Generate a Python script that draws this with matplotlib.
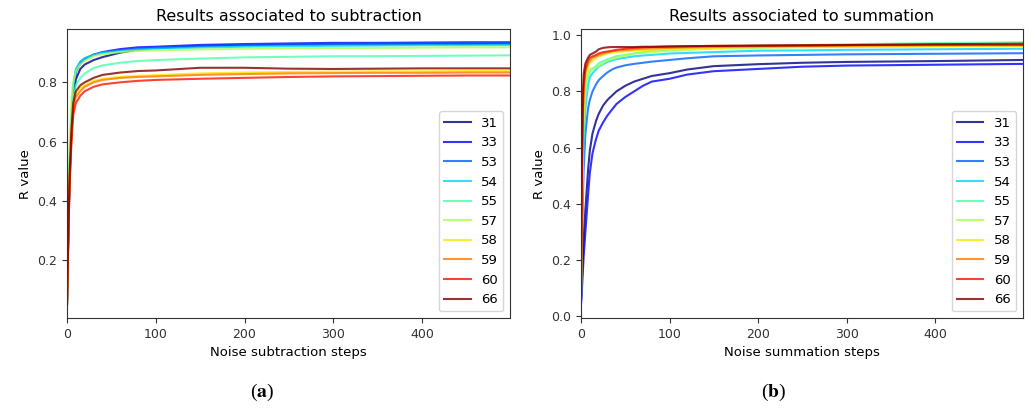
import numpy as np
import matplotlib
matplotlib.use('Agg')
import matplotlib.pyplot as plt

plt.rcParams['mathtext.fontset'] = 'stix'

etiquetas = ['31', '33', '53', '54', '55', '57', '58', '59', '60', '66']

# %% resta (subtraction)
pasos_resta = [0, 1, 2, 3, 5, 7, 10, 15, 20, 30, 40, 60, 80, 100, 150, 200, 250, 300, 350, 400, 450, 499]

resta_31 = [0.05, 0.20, 0.35, 0.47, 0.62, 0.74, 0.81, 0.845, 0.86, 0.875, 0.885, 0.90, 0.91, 0.915, 0.922, 0.925, 0.927, 0.928, 0.928, 0.929, 0.929, 0.93]
resta_33 = [0.05, 0.22, 0.37, 0.50, 0.65, 0.77, 0.835, 0.865, 0.878, 0.893, 0.902, 0.912, 0.918, 0.92, 0.926, 0.929, 0.931, 0.933, 0.933, 0.934, 0.935, 0.935]
resta_53 = [0.05, 0.22, 0.38, 0.50, 0.66, 0.78, 0.84, 0.868, 0.88, 0.893, 0.90, 0.908, 0.913, 0.917, 0.922, 0.926, 0.928, 0.929, 0.93, 0.931, 0.932, 0.932]
resta_54 = [0.05, 0.25, 0.40, 0.53, 0.68, 0.79, 0.845, 0.87, 0.882, 0.892, 0.90, 0.905, 0.91, 0.913, 0.917, 0.92, 0.922, 0.923, 0.924, 0.925, 0.925, 0.926]
resta_55 = [0.05, 0.22, 0.37, 0.48, 0.63, 0.74, 0.79, 0.815, 0.83, 0.848, 0.857, 0.866, 0.872, 0.875, 0.88, 0.884, 0.886, 0.888, 0.888, 0.889, 0.89, 0.891]
resta_57 = [0.06, 0.30, 0.46, 0.60, 0.74, 0.80, 0.838, 0.86, 0.873, 0.888, 0.895, 0.902, 0.906, 0.908, 0.911, 0.913, 0.915, 0.916, 0.916, 0.917, 0.918, 0.918]
resta_58 = [0.05, 0.22, 0.37, 0.48, 0.62, 0.72, 0.76, 0.78, 0.79, 0.805, 0.812, 0.818, 0.822, 0.824, 0.83, 0.833, 0.835, 0.836, 0.837, 0.837, 0.838, 0.838]
resta_59 = [0.05, 0.22, 0.36, 0.47, 0.61, 0.71, 0.75, 0.77, 0.785, 0.80, 0.808, 0.815, 0.818, 0.82, 0.825, 0.828, 0.83, 0.831, 0.832, 0.832, 0.833, 0.833]
resta_60 = [0.05, 0.21, 0.35, 0.46, 0.60, 0.69, 0.73, 0.755, 0.77, 0.785, 0.793, 0.80, 0.805, 0.808, 0.812, 0.815, 0.818, 0.82, 0.821, 0.822, 0.823, 0.823]
resta_66 = [0.05, 0.22, 0.37, 0.49, 0.64, 0.73, 0.77, 0.79, 0.80, 0.815, 0.825, 0.833, 0.838, 0.84, 0.849, 0.849, 0.846, 0.845, 0.846, 0.847, 0.847, 0.847]

# %% suma (summation)
pasos_suma = [0, 1, 2, 3, 5, 8, 10, 13, 17, 20, 25, 30, 35, 40, 50, 60, 70, 80, 100, 120, 150, 200, 250, 300, 400, 499]

suma_31 = [0.05, 0.12, 0.20, 0.27, 0.38, 0.52, 0.59, 0.65, 0.695, 0.72, 0.75, 0.77, 0.785, 0.80, 0.82, 0.835, 0.845, 0.855, 0.865, 0.878, 0.89, 0.897, 0.902, 0.905, 0.908, 0.912]
suma_33 = [0.04, 0.09, 0.15, 0.21, 0.30, 0.43, 0.51, 0.58, 0.63, 0.66, 0.69, 0.715, 0.735, 0.755, 0.78, 0.80, 0.82, 0.835, 0.845, 0.86, 0.872, 0.88, 0.888, 0.892, 0.895, 0.898]
suma_53 = [0.05, 0.25, 0.40, 0.52, 0.65, 0.74, 0.77, 0.80, 0.825, 0.84, 0.855, 0.868, 0.878, 0.885, 0.893, 0.898, 0.902, 0.906, 0.912, 0.918, 0.925, 0.928, 0.93, 0.932, 0.934, 0.936]
suma_54 = [0.06, 0.30, 0.50, 0.62, 0.74, 0.82, 0.85, 0.865, 0.878, 0.888, 0.897, 0.905, 0.91, 0.915, 0.92, 0.925, 0.928, 0.93, 0.935, 0.937, 0.94, 0.945, 0.946, 0.948, 0.95, 0.952]
suma_55 = [0.06, 0.35, 0.55, 0.67, 0.78, 0.85, 0.87, 0.88, 0.89, 0.90, 0.908, 0.915, 0.92, 0.925, 0.93, 0.935, 0.94, 0.945, 0.95, 0.954, 0.958, 0.963, 0.965, 0.968, 0.972, 0.975]
suma_57 = [0.06, 0.40, 0.60, 0.72, 0.82, 0.87, 0.88, 0.882, 0.885, 0.89, 0.90, 0.91, 0.915, 0.92, 0.928, 0.935, 0.938, 0.94, 0.945, 0.948, 0.952, 0.955, 0.957, 0.958, 0.96, 0.962]
suma_58 = [0.07, 0.45, 0.65, 0.76, 0.85, 0.89, 0.90, 0.91, 0.918, 0.925, 0.93, 0.935, 0.938, 0.94, 0.943, 0.945, 0.947, 0.948, 0.952, 0.953, 0.955, 0.958, 0.959, 0.96, 0.962, 0.963]
suma_59 = [0.07, 0.48, 0.69, 0.79, 0.87, 0.90, 0.91, 0.92, 0.925, 0.93, 0.935, 0.94, 0.943, 0.945, 0.948, 0.95, 0.952, 0.953, 0.955, 0.957, 0.958, 0.96, 0.962, 0.963, 0.964, 0.965]
suma_60 = [0.08, 0.50, 0.72, 0.82, 0.88, 0.91, 0.92, 0.925, 0.93, 0.935, 0.94, 0.942, 0.945, 0.948, 0.952, 0.955, 0.957, 0.958, 0.96, 0.961, 0.962, 0.963, 0.964, 0.965, 0.966, 0.965]
suma_66 = [0.08, 0.55, 0.78, 0.86, 0.90, 0.92, 0.93, 0.935, 0.942, 0.95, 0.955, 0.957, 0.958, 0.958, 0.958, 0.958, 0.959, 0.959, 0.96, 0.961, 0.962, 0.963, 0.964, 0.965, 0.968, 0.97]

resta = [resta_31, resta_33, resta_53, resta_54, resta_55, resta_57, resta_58, resta_59, resta_60, resta_66]
suma = [suma_31, suma_33, suma_53, suma_54, suma_55, suma_57, suma_58, suma_59, suma_60, suma_66]

colores = plt.cm.jet(np.linspace(0, 1, len(etiquetas)))

fig = plt.figure(figsize=(10.29, 4.08), dpi=100)
ax1 = fig.add_axes([0.0651, 0.2206, 0.4305, 0.708])
ax2 = fig.add_axes([0.5646, 0.2206, 0.4295, 0.708])

def dibujar(ax, pasos, series, titulo, xlabel):
    for serie, color, etiqueta in zip(series, colores, etiquetas):
        ax.plot(pasos, serie, color=color, alpha=0.8, lw=1.5, label=etiqueta)
    ax.set_xlim(0, 499)
    ax.set_title(titulo, fontsize=11.5)
    ax.set_xlabel(xlabel, fontsize=9.5)
    ax.set_ylabel("R value", fontsize=9.5)
    ax.tick_params(labelsize=9, colors='#333333', labelcolor='#333333')
    for s in ax.spines.values():
        s.set_color('#333333')
    ax.legend(loc='lower right', fontsize=9.5, labelspacing=0.5)

dibujar(ax1, pasos_resta, resta, "Results associated to subtraction", "Noise subtraction steps")
dibujar(ax2, pasos_suma, suma, "Results associated to summation", "Noise summation steps")

fig.text(0.255, 0.037, r'($\mathbf{a}$)', ha='center', va='center', fontsize=14, family='Liberation Serif')
fig.text(0.752, 0.037, r'($\mathbf{b}$)', ha='center', va='center', fontsize=14, family='Liberation Serif')

plt.savefig("out.png", dpi=100)
plt.close()
